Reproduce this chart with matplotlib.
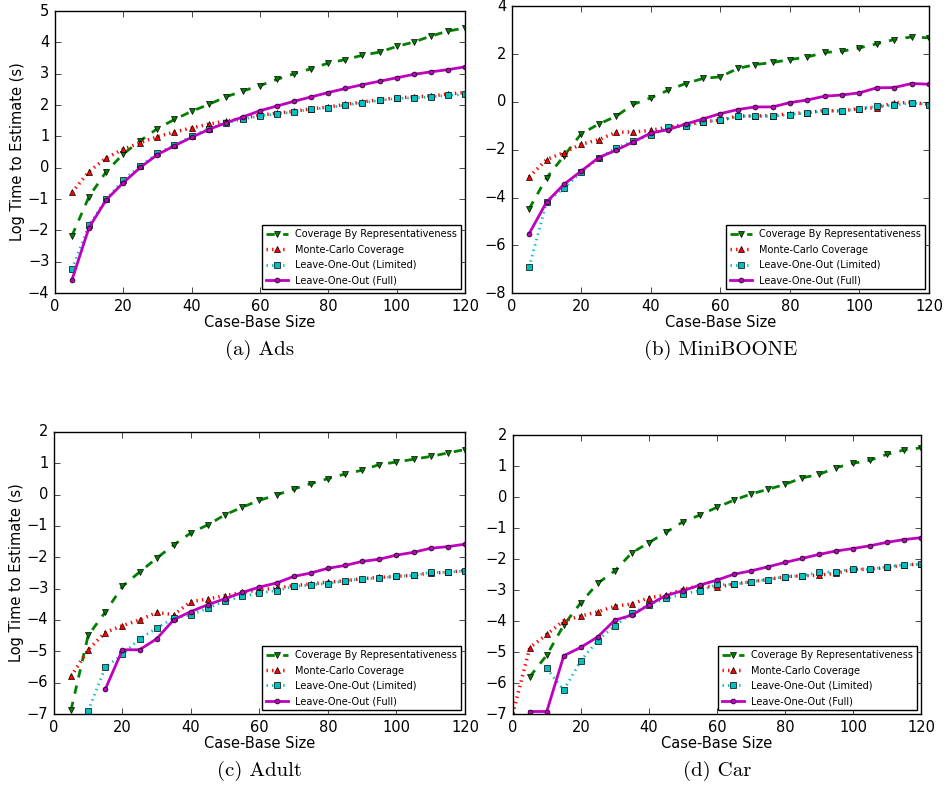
import numpy as np
import matplotlib
matplotlib.use("Agg")
import matplotlib.pyplot as plt

plt.style.use("classic")
plt.rcParams["figure.facecolor"] = "white"
plt.rcParams["savefig.facecolor"] = "white"

nan = np.nan
sizes = np.arange(5, 121, 5)

labels = ["Coverage By Representativeness", "Monte-Carlo Coverage",
          "Leave-One-Out (Limited)", "Leave-One-Out (Full)"]

# Ads
ads_cbr = [-2.17, -0.92, -0.13, 0.44, 0.86, 1.25, 1.54, 1.80, 2.02, 2.26, 2.45, 2.62,
           2.82, 3.00, 3.16, 3.34, 3.45, 3.59, 3.69, 3.87, 4.01, 4.20, 4.36, 4.46]
ads_mc = [-0.79, -0.12, 0.31, 0.59, 0.80, 0.99, 1.14, 1.27, 1.39, 1.49, 1.58, 1.68,
          1.74, 1.80, 1.88, 1.94, 2.02, 2.10, 2.17, 2.23, 2.26, 2.29, 2.35, 2.40]
ads_lim = [-3.23, -1.83, -1.01, -0.39, 0.06, 0.46, 0.72, 1.01, 1.25, 1.43, 1.55, 1.66,
           1.72, 1.78, 1.87, 1.92, 2.00, 2.07, 2.15, 2.21, 2.23, 2.26, 2.31, 2.34]
ads_full = [-3.58, -1.91, -1.03, -0.48, 0.01, 0.42, 0.70, 0.97, 1.22, 1.43, 1.62, 1.82,
            1.97, 2.12, 2.26, 2.40, 2.53, 2.65, 2.76, 2.87, 2.98, 3.06, 3.13, 3.22]

# MiniBOONE
mb_cbr = [-4.47, -3.18, -2.26, -1.33, -0.93, -0.60, -0.10, 0.17, 0.49, 0.77, 0.98, 1.05,
          1.40, 1.56, 1.65, 1.77, 1.88, 2.07, 2.12, 2.26, 2.43, 2.61, 2.72, 2.68]
mb_mc = [-3.14, -2.41, -2.12, -1.77, -1.58, -1.27, -1.26, -1.19, -1.05, -0.95, -0.82, -0.77,
         -0.59, -0.59, -0.57, -0.49, -0.45, -0.36, -0.38, -0.28, -0.24, -0.03, -0.03, -0.10]
mb_lim = [-6.91, -4.20, -3.60, -2.93, -2.34, -1.93, -1.63, -1.40, -1.05, -1.02, -0.84, -0.77,
          -0.60, -0.60, -0.60, -0.53, -0.46, -0.38, -0.38, -0.28, -0.18, -0.14, -0.04, -0.11]
mb_full = [-5.51, -4.19, -3.45, -2.89, -2.33, -2.02, -1.67, -1.30, -1.16, -0.93, -0.71, -0.49,
           -0.32, -0.21, -0.21, -0.03, 0.08, 0.24, 0.29, 0.38, 0.59, 0.60, 0.77, 0.74]

# Adult
ad_cbr = [-6.87, -4.49, -3.75, -2.93, -2.47, -2.03, -1.60, -1.22, -0.96, -0.64, -0.40, -0.18,
          -0.01, 0.18, 0.35, 0.51, 0.66, 0.78, 0.96, 1.04, 1.13, 1.22, 1.33, 1.44]
ad_mc = [-5.80, -4.95, -4.40, -4.18, -4.00, -3.76, -3.83, -3.41, -3.33, -3.22, -3.12, -3.04,
         -2.98, -2.90, -2.85, -2.79, -2.75, -2.68, -2.64, -2.61, -2.57, -2.50, -2.48, -2.42]
ad_lim = [nan, -6.90, -5.51, -5.10, -4.60, -4.26, -3.94, -3.83, -3.62, -3.39, -3.25, -3.14,
          -3.06, -2.93, -2.88, -2.84, -2.75, -2.69, -2.66, -2.61, -2.58, -2.48, -2.48, -2.43]
ad_full = [nan, nan, -6.21, -4.95, -4.95, -4.60, -3.99, -3.73, -3.51, -3.32, -3.12, -2.95,
           -2.82, -2.61, -2.50, -2.35, -2.26, -2.13, -2.06, -1.93, -1.84, -1.71, -1.66, -1.58]

# Car (Monte-Carlo has an extra point at size 0)
car_mc_x = np.concatenate([[0], sizes])
car_cbr = [-5.80, -5.10, -4.13, -3.41, -2.78, -2.38, -1.80, -1.47, -1.14, -0.80, -0.58, -0.33,
           -0.10, 0.10, 0.25, 0.41, 0.62, 0.73, 0.95, 1.09, 1.19, 1.38, 1.52, 1.59]
car_mc = [-7.0, -4.86, -4.43, -3.99, -3.84, -3.70, -3.52, -3.45, -3.25, -3.16, -2.98, -2.86, -2.91,
          -2.81, -2.73, -2.66, -2.57, -2.54, -2.52, -2.46, -2.33, -2.33, -2.27, -2.19, -2.16]
car_lim = [nan, -5.53, -6.23, -5.28, -4.63, -4.15, -3.75, -3.48, -3.27, -3.13, -3.02, -2.82,
           -2.82, -2.73, -2.66, -2.57, -2.54, -2.43, -2.41, -2.32, -2.33, -2.25, -2.19, -2.17]
car_full = [-6.92, -6.92, -5.12, -4.85, -4.51, -3.97, -3.81, -3.48, -3.18, -3.02, -2.84, -2.68,
            -2.49, -2.38, -2.25, -2.11, -1.98, -1.85, -1.74, -1.66, -1.57, -1.46, -1.37, -1.31]

panels = [
    ("(a) Ads", [0.058, 0.629, 0.4335, 0.357], (-4, 5), np.arange(-4, 6, 1),
     [sizes] * 4, [ads_cbr, ads_mc, ads_lim, ads_full], True, 0.557),
    ("(b) MiniBOONE", [0.541, 0.629, 0.441, 0.363], (-8, 4), np.arange(-8, 5, 2),
     [sizes] * 4, [mb_cbr, mb_mc, mb_lim, mb_full], False, 0.557),
    ("(c) Adult", [0.057, 0.0962, 0.4345, 0.357], (-7, 2), np.arange(-7, 3, 1),
     [sizes] * 4, [ad_cbr, ad_mc, ad_lim, ad_full], True, 0.024),
    ("(d) Car", [0.542, 0.0962, 0.4316, 0.353], (-7, 2), np.arange(-7, 3, 1),
     [sizes, car_mc_x, sizes, sizes], [car_cbr, car_mc, car_lim, car_full], False, 0.024),
]

styles = [
    dict(color="g", ls="--", lw=2, marker="v", ms=5),
    dict(color="r", ls=":", lw=2.5, marker="^", ms=5),
    dict(color="c", ls=":", lw=2, marker="s", ms=5),
    dict(color="m", ls="-", lw=2, marker="o", ms=3.5),
]

fig = plt.figure(figsize=(9.46, 7.90), dpi=100)

for title, rect, ylim, yticks, xs, ys, ylab, cy in panels:
    ax = fig.add_axes(rect)
    for x, y, lab, st in zip(xs, ys, labels, styles):
        ax.plot(x, y, label=lab, mec="k", mew=0.5, **st)
    ax.set_xlim(0, 120)
    ax.set_ylim(*ylim)
    ax.set_xticks(np.arange(0, 121, 20))
    ax.set_yticks(yticks)
    ax.tick_params(labelsize=10.5)
    ax.set_xlabel("Case-Base Size", fontsize=10.5, labelpad=1)
    if ylab:
        ax.set_ylabel("Log Time to Estimate (s)", fontsize=10.5, labelpad=2)
    ax.legend(loc="lower right", fontsize=7, numpoints=1, borderaxespad=0.4,
              handlelength=2.2, labelspacing=0.55, borderpad=0.4)
    fig.text(rect[0] + rect[2] / 2, cy, title, ha="center", va="center",
             fontsize=15, family="cmr10")

fig.savefig("out.png", dpi=100)
